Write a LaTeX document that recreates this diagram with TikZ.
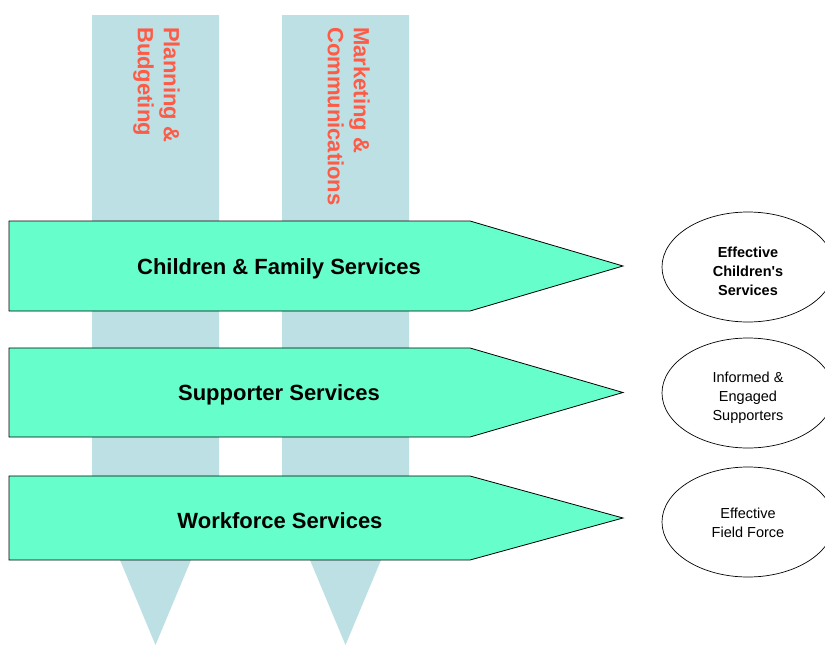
\documentclass[tikz,border=0pt]{standalone}
\usepackage{fontspec}
\setmainfont{Liberation Sans}
\definecolor{barblue}{HTML}{BCE0E3}
\definecolor{arrowgreen}{HTML}{66FFCC}
\definecolor{labelred}{HTML}{FF5A46}
\begin{document}
\begin{tikzpicture}[x=1pt,y=-1pt,
  bar/.style={fill=barblue,draw=none},
  flow/.style={fill=arrowgreen,draw=black,line width=0.8pt,line join=miter},
  vlabel/.style={rotate=-90,anchor=north west,inner sep=0pt,align=left,text=labelred,font=\fontsize{22}{26}\selectfont\bfseries},
  flowlabel/.style={font=\fontsize{22}{26}\selectfont\bfseries,inner sep=0pt},
  outtext/.style={align=center,inner sep=0pt,font=\fontsize{14.5}{19}\selectfont}]
\useasboundingbox (0,0) rectangle (825,645);
% vertical bars
\path[bar] (92,15) -- (219,15) -- (219,493) -- (155.5,645) -- (92,493) -- cycle;
\path[bar] (282,15) -- (409,15) -- (409,493) -- (345.5,645) -- (282,493) -- cycle;
\node[vlabel] (plan) at (180,27) {Planning \&\\Budgeting};
\node[vlabel] (mark) at (370,27) {Marketing \&\\Communications};
% horizontal arrows
\draw[flow] (9,221) -- (470,221) -- (623,266) -- (470,311) -- (9,311) -- cycle;
\draw[flow] (9,348) -- (470,348) -- (623,392.5) -- (470,437) -- (9,437) -- cycle;
\draw[flow] (9,476) -- (470,476) -- (623,518) -- (470,560) -- (9,560) -- cycle;
\node[flowlabel] (cfs) at (279,269) {Children \& Family Services};
\node[flowlabel] (sup) at (279,395) {Supporter Services};
\node[flowlabel] (wfs) at (280,521) {Workforce Services};
% outcomes
\draw[line width=0.7pt] (748,267) ellipse [x radius=86, y radius=55];
\draw[line width=0.7pt] (748,393) ellipse [x radius=86, y radius=55];
\draw[line width=0.7pt] (748,522) ellipse [x radius=86, y radius=55];
\node[outtext,font=\fontsize{14.5}{19}\selectfont\bfseries] (o1) at (748,271) {Effective\\Children\textquotesingle s\\Services};
\node[outtext] (o2) at (748,398) {Informed \&\\Engaged\\Supporters};
\node[outtext] (o3) at (748,523) {Effective\\Field Force};
\end{tikzpicture}
\end{document}
